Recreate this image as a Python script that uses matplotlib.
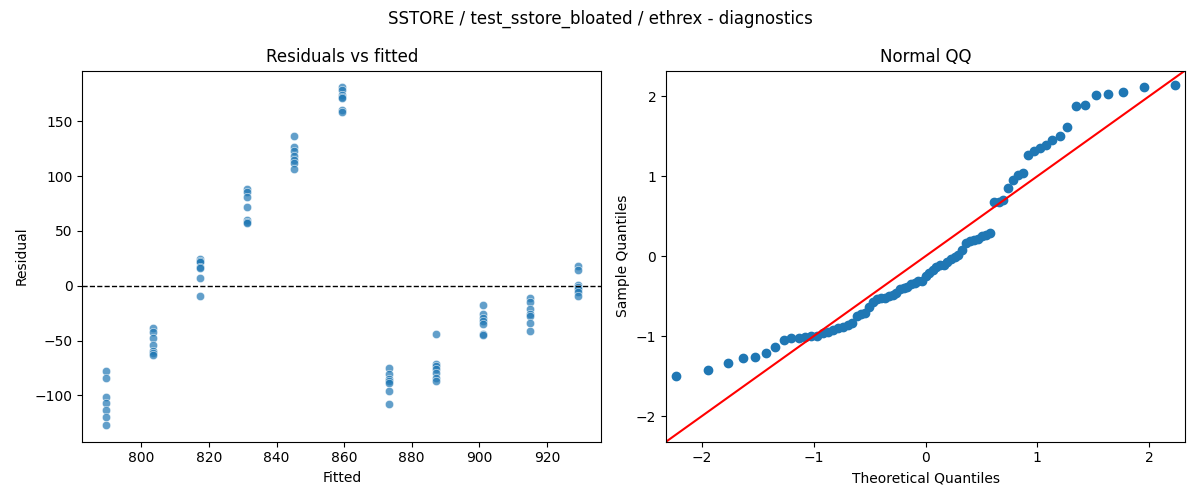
import numpy as np
import matplotlib
matplotlib.use("Agg")
import matplotlib.pyplot as plt
import seaborn as sns
from statistics import NormalDist

# Fitted value for each group of observations
fitted_levels = [789.5, 803.4, 817.4, 831.3, 845.3, 859.3, 873.3, 887.2, 901.2, 915.1, 929.1]

# Residuals observed at each fitted level (7 per level)
residuals_by_level = [
    [-78, -84, -102, -107, -113, -120, -127],
    [-39, -42, -48, -54, -60, -61, -63],
    [24.5, 22.5, 21.5, 17.5, 16.5, 7, -9],
    [88, 86, 81, 72, 60, 58, 57],
    [137, 127, 123, 118, 115, 112, 107],
    [181, 179, 174, 172, 171, 160, 159],
    [-75, -81, -85, -87, -89, -96, -108],
    [-44, -71, -73, -76, -80, -84, -87],
    [-18, -26, -29, -32, -35, -44, -45],
    [-11, -15, -21, -26, -28, -34, -41],
    [18, 14, 1, -1, -3, -6, -9],
]

title = "SSTORE / test_sstore_bloated / ethrex - diagnostics"

fitted = np.concatenate([[f] * len(r) for f, r in zip(fitted_levels, residuals_by_level)])
resid = np.concatenate([np.array(r, dtype=float) for r in residuals_by_level])

# Normal QQ: standardized residuals vs theoretical normal quantiles
z = np.sort((resid - resid.mean()) / resid.std(ddof=0))
n = len(z)
nd = NormalDist()
theo = np.array([nd.inv_cdf(i / (n + 1)) for i in range(1, n + 1)])

fig, (ax1, ax2) = plt.subplots(1, 2, figsize=(12, 5), dpi=100)

sns.scatterplot(x=fitted, y=resid, ax=ax1, alpha=0.7)
ax1.axhline(0, color="black", linestyle="--", linewidth=1)
ax1.set_title("Residuals vs fitted")
ax1.set_xlabel("Fitted")
ax1.set_ylabel("Residual")

ax2.plot(theo, z, marker="o", linestyle="none", color="C0")
lim = (-2.32, 2.32)
ax2.plot(lim, lim, "r-")
ax2.set_xlim(lim)
ax2.set_ylim(lim)
ax2.set_title("Normal QQ")
ax2.set_xlabel("Theoretical Quantiles")
ax2.set_ylabel("Sample Quantiles")

fig.suptitle(title)
fig.tight_layout()
fig.savefig("out.png")
